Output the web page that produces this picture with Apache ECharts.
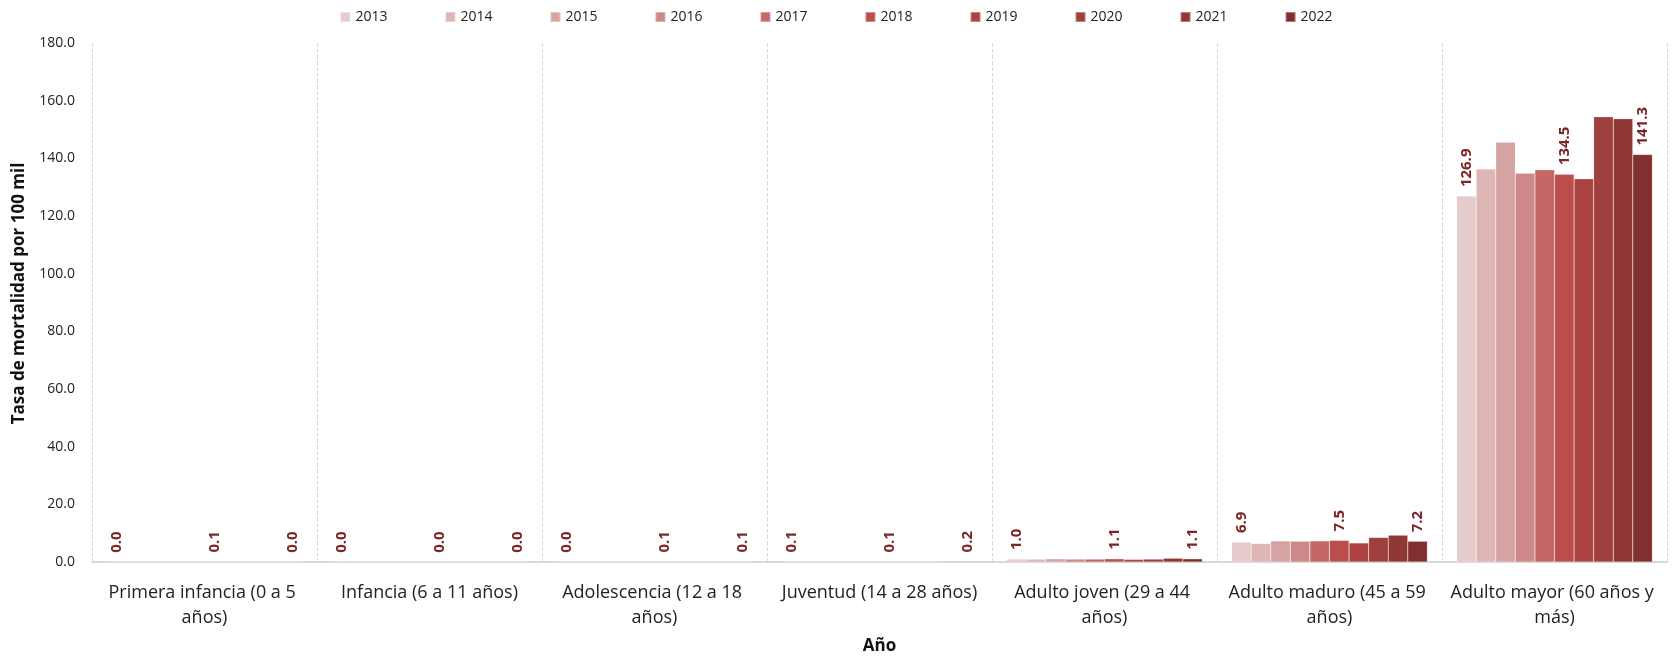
<!DOCTYPE html>
<html>
<head>
<meta charset="utf-8">
<script src="https://cdn.jsdelivr.net/npm/echarts@6/dist/echarts.min.js"></script>
<style>
  html, body { margin: 0; padding: 0; background: #fff; }
  #chart { width: 1672px; height: 657px; }
</style>
</head>
<body>
<div id="chart"></div>
<script>
// age groups on the x axis
const categories = [
  'Primera infancia (0 a 5 años)',
  'Infancia (6 a 11 años)',
  'Adolescencia (12 a 18 años)',
  'Juventud (14 a 28 años)',
  'Adulto joven (29 a 44 años)',
  'Adulto maduro (45 a 59 años)',
  'Adulto mayor (60 años y más)'
]

const years = ['2013', '2014', '2015', '2016', '2017', '2018', '2019', '2020', '2021', '2022']

// one array per year, values per age group
const v2013 = [0.0, 0.0, 0.0, 0.1, 1.0, 6.9, 126.9]
const v2014 = [0.0, 0.0, 0.0, 0.1, 1.0, 6.4, 136.3]
const v2015 = [0.0, 0.0, 0.1, 0.1, 1.1, 7.3, 145.6]
const v2016 = [0.1, 0.0, 0.1, 0.1, 1.0, 7.2, 134.8]
const v2017 = [0.1, 0.0, 0.1, 0.1, 1.0, 7.3, 136.0]
const v2018 = [0.1, 0.0, 0.1, 0.1, 1.1, 7.5, 134.5]
const v2019 = [0.0, 0.0, 0.1, 0.1, 0.9, 6.6, 132.9]
const v2020 = [0.0, 0.0, 0.1, 0.1, 1.0, 8.5, 154.4]
const v2021 = [0.0, 0.0, 0.1, 0.2, 1.3, 9.3, 153.7]
const v2022 = [0.0, 0.0, 0.1, 0.2, 1.1, 7.2, 141.3]
const values = [v2013, v2014, v2015, v2016, v2017, v2018, v2019, v2020, v2021, v2022]

// only these years carry value labels
const labelledYears = ['2013', '2018', '2022']

const colors = ['#e6cbcb', '#dfb6b6', '#d6a3a3', '#cd8888', '#c56767',
                '#bb4e4c', '#ad4341', '#9f403f', '#913837', '#822f2f']

const font = '"Open Sans", "Noto Sans", sans-serif'

const chart = echarts.init(document.getElementById('chart'))

const series = years.map(function (y, i) {
  return {
    name: y,
    type: 'bar',
    barGap: '0%',
    barCategoryGap: '13%',
    data: values[i],
    itemStyle: {
      borderColor: 'rgba(255,255,255,0.35)',
      borderWidth: 0.5
    },
    label: {
      show: labelledYears.indexOf(y) >= 0,
      position: 'top',
      rotate: 90,
      align: 'left',
      verticalAlign: 'middle',
      distance: 9,
      color: '#7a2626',
      fontWeight: 'bold',
      fontSize: 15,
      fontFamily: font,
      formatter: function (p) { return p.value.toFixed(1) }
    }
  }
})

chart.setOption({
  color: colors,
  textStyle: { fontFamily: font },
  legend: {
    top: 5,
    left: 'center',
    icon: 'rect',
    itemWidth: 10,
    itemHeight: 10,
    itemGap: 57,
    textStyle: { fontSize: 14, color: '#222', fontFamily: font },
    data: years
  },
  grid: {
    left: 92,
    right: 5,
    top: 43,
    bottom: 95,
    outerBoundsMode: 'none'
  },
  xAxis: {
    type: 'category',
    data: categories,
    name: 'Año',
    nameLocation: 'middle',
    nameGap: 76,
    nameTextStyle: { fontWeight: 'bold', fontSize: 17, color: '#111', fontFamily: font },
    axisLine: { lineStyle: { color: '#d9d9d9', width: 2 } },
    axisTick: { show: false },
    axisLabel: {
      interval: 0,
      fontSize: 18,
      color: '#222',
      lineHeight: 25,
      margin: 18,
      width: 224,
      overflow: 'break',
      fontFamily: font
    },
    splitLine: {
      show: true,
      interval: 0,
      lineStyle: { color: '#d9d9d9', type: 'dashed', width: 1 }
    }
  },
  yAxis: {
    type: 'value',
    min: 0,
    max: 180,
    interval: 20,
    name: 'Tasa de mortalidad por 100 mil',
    nameLocation: 'middle',
    nameGap: 64,
    nameTextStyle: {
      fontWeight: 'bold',
      fontSize: 17,
      color: '#111',
      fontFamily: font,
      padding: [0, 0, 0, 18]
    },
    axisLine: { show: false },
    axisTick: { show: false },
    splitLine: { show: false },
    axisLabel: {
      fontSize: 14,
      color: '#222',
      margin: 17,
      fontFamily: font,
      formatter: function (v) { return v.toFixed(1) }
    }
  },
  series: series
})

window.addEventListener('resize', function () {
  chart.resize()
})
</script>
</body>
</html>
